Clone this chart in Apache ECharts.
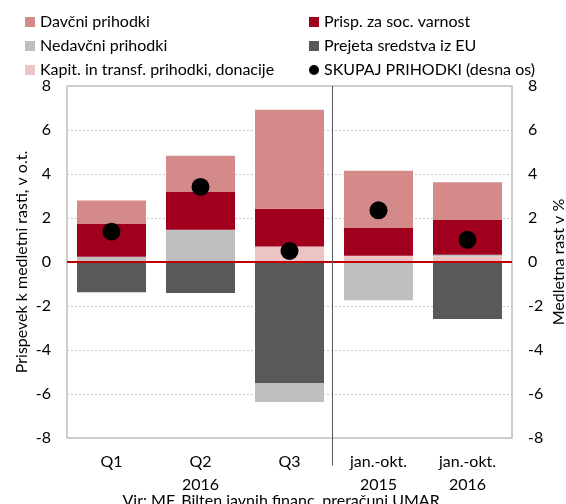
<!DOCTYPE html>
<html>
<head>
<meta charset="utf-8">
<script src="https://cdn.jsdelivr.net/npm/echarts@6/dist/echarts.min.js"></script>
<style>html,body{margin:0;padding:0;background:#fff}#c{width:566px;height:504px}</style>
</head>
<body>
<div id="c"></div>
<script>
const categories = ['Q1', 'Q2\n2016', 'Q3', 'jan.-okt.\n2015', 'jan.-okt.\n2016'];
const davcni    = [1.04, 1.62, 4.50, 2.61, 1.71];
const prisp     = [1.51, 1.74, 1.71, 1.26, 1.58];
const nedavcni  = [0.24, 1.47, -0.86, -1.74, 0.08];
const eu        = [-1.38, -1.41, -5.50, 0, -2.59];
const kapit     = [0, 0, 0.71, 0.28, 0.25];
const skupaj    = [1.38, 3.41, 0.50, 2.35, 1.01];
const yTicks    = [-8, 8, 2];
const dividerAfter = 2;      // divider sits after the 3rd category (Q3)
const dividerFrac = 0.475;   // fraction of the way to the next category centre
const dividerLow = -9.25;    // divider reaches below the axis into the label area

const FONT = 'Lato';
const chart = echarts.init(document.getElementById('c'));
const bar = (name, data, color) => ({
  name, type: 'bar', stack: 'a', data, barWidth: 69,
  itemStyle: { color }, emphasis: { disabled: true }
});
const series = [
  bar('Kapit. in transf. prihodki, donacije', kapit, '#ecc4c4'),
  bar('Prejeta sredstva iz EU', eu, '#595959'),
  bar('Nedavčni prihodki', nedavcni, '#bfbfbf'),
  bar('Prisp. za soc. varnost', prisp, '#a0001e'),
  bar('Davčni prihodki', davcni, '#d48a88'),
  {
    name: 'SKUPAJ PRIHODKI (desna os)', type: 'scatter', yAxisIndex: 1,
    data: skupaj, symbolSize: 18, itemStyle: { color: '#000', opacity: 1 }, z: 5,
    emphasis: { disabled: true },
    markLine: {
      silent: true, symbol: ['none', 'none'], label: { show: false },
      lineStyle: { color: '#c00000', width: 2, type: 'solid' },
      data: [{ yAxis: 0 }]
    }
  }
];

const yAxisBase = (pos, name, gap) => ({
  type: 'value', position: pos, min: yTicks[0], max: yTicks[1], interval: yTicks[2],
  name, nameLocation: 'middle', nameGap: gap, nameRotate: 90, nameMoveOverlap: false,
  nameTextStyle: { fontFamily: FONT, fontSize: 16, color: '#000' },
  axisLine: { show: false }, axisTick: { show: false },
  axisLabel: { fontFamily: FONT, fontSize: 16, color: '#000', margin: 16 },
  splitLine: pos === 'left' ? { show: true, lineStyle: { color: '#c8c8c8', type: [2, 2], width: 1 } } : { show: false }
});

chart.setOption({
  animation: false,
  textStyle: { fontFamily: FONT },
  grid: { left: 67, right: 54, top: 86, bottom: 66, show: true, borderColor: '#bfbfbf', borderWidth: 1.5,
          containLabel: false, outerBoundsMode: 'none' },
  legend: [
    {
      orient: 'vertical', left: 20, top: 9, itemWidth: 10, itemHeight: 10, itemGap: 8,
      textStyle: { fontFamily: FONT, fontSize: 16, color: '#000', lineHeight: 16 },
      data: [
        { name: 'Davčni prihodki', icon: 'rect' },
        { name: 'Nedavčni prihodki', icon: 'rect' },
        { name: 'Kapit. in transf. prihodki, donacije', icon: 'rect' }
      ], selectedMode: false
    },
    {
      orient: 'vertical', left: 304, top: 9, itemWidth: 10, itemHeight: 10, itemGap: 8,
      textStyle: { fontFamily: FONT, fontSize: 16, color: '#000', lineHeight: 16 },
      data: [
        { name: 'Prisp. za soc. varnost', icon: 'rect' },
        { name: 'Prejeta sredstva iz EU', icon: 'rect' },
        { name: 'SKUPAJ PRIHODKI (desna os)', icon: 'circle' }
      ], selectedMode: false
    }
  ],
  title: {
    text: 'Vir: MF, Bilten javnih financ, preračuni UMAR.',
    left: 'center', top: 488,
    textStyle: { fontFamily: FONT, fontSize: 16, fontWeight: 'normal', color: '#000' }
  },
  xAxis: {
    type: 'category', data: categories,
    axisLine: { show: false }, axisTick: { show: false },
    axisLabel: { fontFamily: FONT, fontSize: 16, color: '#000', lineHeight: 23, margin: 12 },
    splitLine: { show: false }
  },
  yAxis: [
    yAxisBase('left', 'Prispevek k medletni rasti, v o.t.', 37),
    yAxisBase('right', 'Medletna rast v %', 39)
  ],
  series
});

// divider line between the quarterly and the jan.-okt. groups
const xa = chart.convertToPixel({ xAxisIndex: 0 }, dividerAfter);
const xb = chart.convertToPixel({ xAxisIndex: 0 }, dividerAfter + 1);
const dx = Math.round(xa + (xb - xa) * dividerFrac) + 0.5;
const yTop = chart.convertToPixel({ yAxisIndex: 0 }, yTicks[1]);
const yBot = chart.convertToPixel({ yAxisIndex: 0 }, dividerLow);
chart.setOption({
  graphic: [{
    type: 'line', silent: true, z: 10,
    shape: { x1: dx, y1: yTop, x2: dx, y2: yBot },
    style: { stroke: '#555', lineWidth: 1 }
  }]
});
</script>
</body>
</html>
